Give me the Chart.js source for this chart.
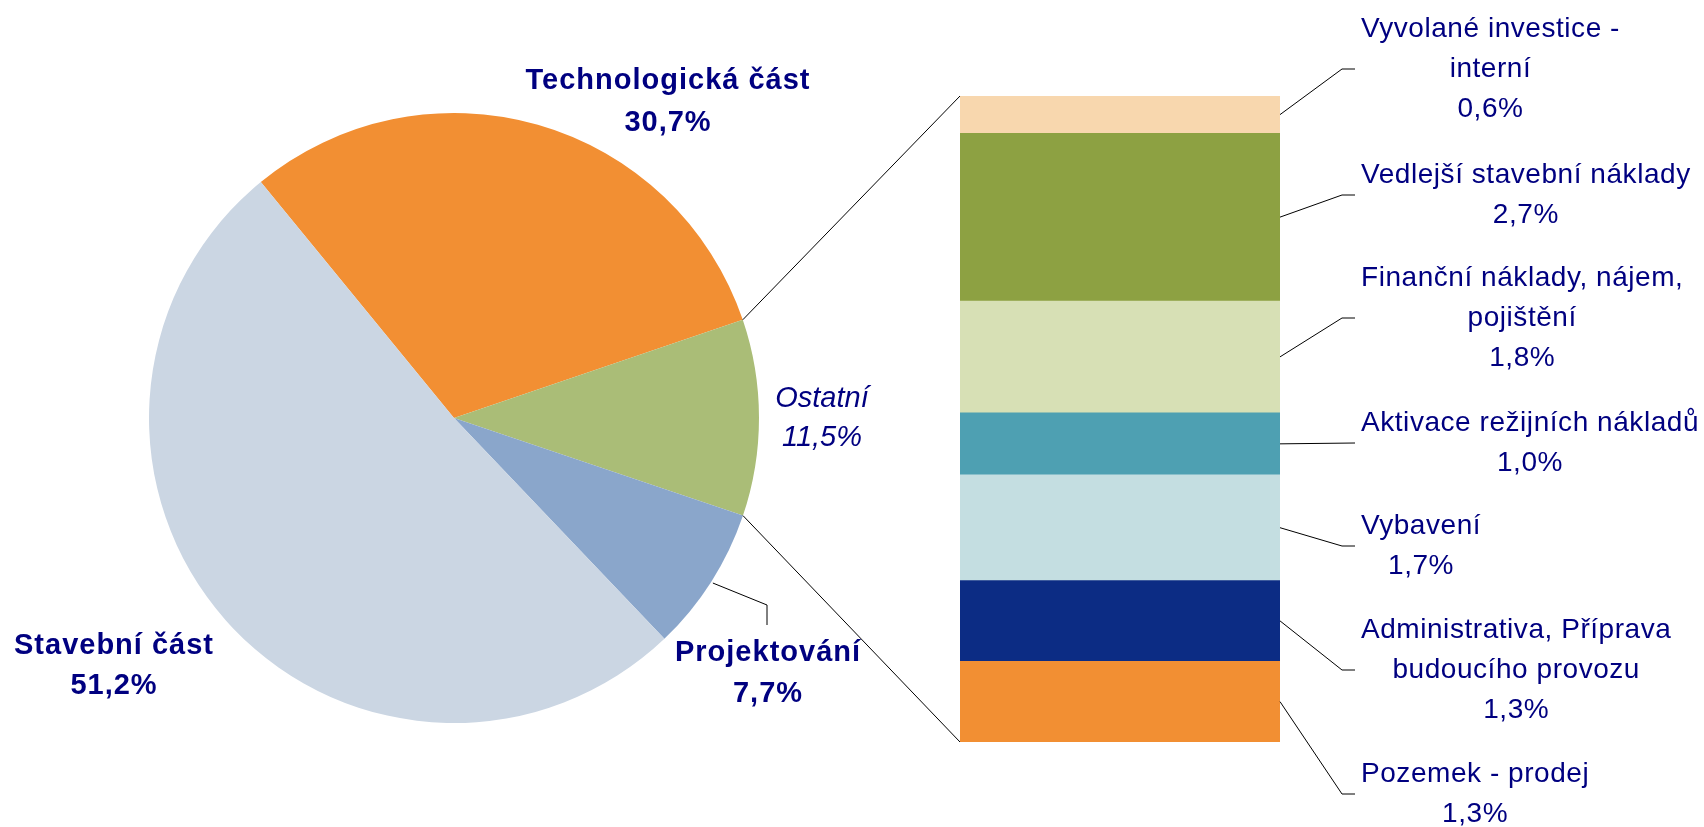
<!DOCTYPE html>
<html><head><meta charset="utf-8">
<script src="https://cdn.jsdelivr.net/npm/chart.js@4.4.1/dist/chart.umd.min.js"></script>
<style>
html,body{margin:0;padding:0;background:#fff;overflow:hidden}
#wrap{position:relative;width:1704px;height:827px;background:#fff}
canvas{position:absolute;left:0;top:0}
</style></head><body>
<div id="wrap"><canvas id="pie" width="1704" height="827"></canvas><canvas id="bar" width="1704" height="827"></canvas></div>
<script>
// ---- data ----
const pieCategories = ['Technologická část', 'Ostatní', 'Projektování', 'Stavební část'];
const pieValues = [30.7, 10.4, 7.7, 51.2];          // slice sizes (Ostatní slice = its breakdown)
const pieValueLabels = ['30,7%', '11,5%', '7,7%', '51,2%']; // percentages as printed
const pieColors = ['#F28F33', '#AABD77', '#8AA6CB', '#CBD6E3'];

// breakdown of "Ostatní", bottom to top of the stacked bar
const breakdownCategories = ['Pozemek - prodej', 'Administrativa, Příprava budoucího provozu', 'Vybavení',
  'Aktivace režijních nákladů', 'Finanční náklady, nájem, pojištění', 'Vedlejší stavební náklady',
  'Vyvolané investice - interní'];
const breakdownLabelLines = [['Pozemek - prodej'], ['Administrativa, Příprava', 'budoucího provozu'], ['Vybavení'],
  ['Aktivace režijních nákladů'], ['Finanční náklady, nájem,', 'pojištění'], ['Vedlejší stavební náklady'],
  ['Vyvolané investice -', 'interní']];
const breakdownValues = [1.3, 1.3, 1.7, 1.0, 1.8, 2.7, 0.6];
const breakdownColors = ['#F28F33', '#0C2C84', '#C4DEE1', '#4EA0B2', '#D7E0B5', '#8DA142', '#F8D7AE'];

// ---- layout ----
const TEXT_COLOR = '#000080';
const FONT = '"Liberation Sans", Arial, sans-serif';
const pieLabelLayout = [
  { x: 668, ys: [81, 123], style: 'bold', spacing: '1px' },
  { x: 822, ys: [399, 438], style: 'italic', spacing: '0px' },
  { x: 768, ys: [653, 694], style: 'bold', spacing: '1px' },
  { x: 114, ys: [646, 686], style: 'bold', spacing: '1px' }
];
const barLabelElbowY = [794, 670, 546, 443, 318, 195, 69];
const fmt = v => v.toFixed(1).replace('.', ',') + '%';

function fontStr(style, size) {
  if (style === 'bold') return 'bold ' + size + 'px ' + FONT;
  if (style === 'italic') return 'italic ' + size + 'px ' + FONT;
  return size + 'px ' + FONT;
}

const pieLabelsPlugin = {
  id: 'pieLabels',
  afterDraw(chart) {
    const ctx = chart.ctx;
    const arcs = chart.getDatasetMeta(0).data;
    ctx.save();
    // leader for Projektování
    const a = arcs[2];
    const mid = (a.startAngle + a.endAngle) / 2;
    const r = a.outerRadius + 2;
    ctx.strokeStyle = '#000';
    ctx.lineWidth = 1;
    ctx.beginPath();
    ctx.moveTo(a.x + r * Math.cos(mid), a.y + r * Math.sin(mid));
    ctx.lineTo(767, 605);
    ctx.lineTo(767, 625);
    ctx.stroke();
    ctx.fillStyle = TEXT_COLOR;
    ctx.textAlign = 'center';
    ctx.textBaseline = 'middle';
    pieCategories.forEach((name, i) => {
      const L = pieLabelLayout[i];
      ctx.font = fontStr(L.style, 29);
      ctx.letterSpacing = L.spacing;
      ctx.fillText(name, L.x, L.ys[0]);
      ctx.fillText(pieValueLabels[i], L.x, L.ys[1]);
    });
    ctx.restore();
  }
};

const pieChart = new Chart(document.getElementById('pie'), {
  type: 'pie',
  data: {
    labels: pieCategories,
    datasets: [{ data: pieValues, backgroundColor: pieColors, borderWidth: 0, hoverOffset: 0, offset: 0 }]
  },
  options: {
    responsive: false,
    animation: false,
    events: [],
    rotation: -39.3,
    layout: { padding: { left: 149, right: 945, top: 113, bottom: 104 } },
    plugins: { legend: { display: false }, tooltip: { enabled: false } }
  },
  plugins: [pieLabelsPlugin]
});

const barLabelsPlugin = {
  id: 'barLabels',
  afterDraw(chart) {
    const ctx = chart.ctx;
    ctx.save();
    ctx.strokeStyle = '#000';
    ctx.lineWidth = 1;
    // connectors from pie slice "Ostatní" to the bar
    const g = pieChart.getDatasetMeta(0).data[1];
    const topBar = chart.getDatasetMeta(breakdownValues.length - 1).data[0];
    const botBar = chart.getDatasetMeta(0).data[0];
    const left = topBar.x - topBar.width / 2;
    ctx.beginPath();
    ctx.moveTo(g.x + g.outerRadius * Math.cos(g.startAngle), g.y + g.outerRadius * Math.sin(g.startAngle));
    ctx.lineTo(left, topBar.y);
    ctx.moveTo(g.x + g.outerRadius * Math.cos(g.endAngle), g.y + g.outerRadius * Math.sin(g.endAngle));
    ctx.lineTo(left, botBar.base);
    ctx.stroke();
    // leader lines + labels
    ctx.fillStyle = TEXT_COLOR;
    ctx.textBaseline = 'middle';
    ctx.textAlign = 'center';
    ctx.font = fontStr('normal', 28);
    ctx.letterSpacing = '0.55px';
    breakdownValues.forEach((v, i) => {
      const el = chart.getDatasetMeta(i).data[0];
      const sx = el.x + el.width / 2;
      const sy = (el.y + el.base) / 2;
      const ey = barLabelElbowY[i];
      ctx.beginPath();
      ctx.moveTo(sx, sy);
      if (Math.abs(sy - ey) > 2) ctx.lineTo(1342, ey);
      ctx.lineTo(1355, ey);
      ctx.stroke();
      const lines = breakdownLabelLines[i].concat([fmt(v)]);
      const maxW = Math.max(...lines.map(t => ctx.measureText(t).width));
      const cx = 1361 + maxW / 2;
      lines.forEach((t, k) => {
        ctx.fillText(t, cx, ey + (k - (lines.length - 1) / 2) * 40);
      });
    });
    ctx.restore();
  }
};

const total = breakdownValues.reduce((s, v) => s + v, 0);
new Chart(document.getElementById('bar'), {
  type: 'bar',
  data: {
    labels: ['Ostatní'],
    datasets: breakdownCategories.map((name, i) => ({
      label: name, data: [breakdownValues[i]], backgroundColor: breakdownColors[i],
      borderWidth: 0, barPercentage: 1, categoryPercentage: 1, stack: 's'
    }))
  },
  options: {
    responsive: false,
    animation: false,
    events: [],
    layout: { padding: { left: 960, right: 424, top: 96, bottom: 85 } },
    scales: {
      x: { stacked: true, display: false },
      y: { stacked: true, display: false, min: 0, max: total }
    },
    plugins: { legend: { display: false }, tooltip: { enabled: false } }
  },
  plugins: [barLabelsPlugin]
});
</script>
</body></html>
